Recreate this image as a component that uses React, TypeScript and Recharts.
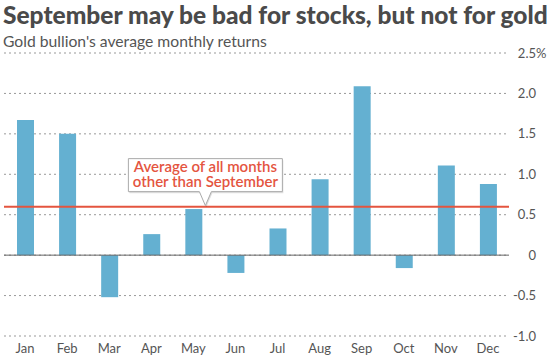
import React from "react";
import {
  BarChart,
  Bar,
  XAxis,
  YAxis,
  CartesianGrid,
  ReferenceLine,
  ReferenceDot,
} from "recharts";

const months = ["Jan", "Feb", "Mar", "Apr", "May", "Jun", "Jul", "Aug", "Sep", "Oct", "Nov", "Dec"];
const returns = [1.67, 1.5, -0.52, 0.26, 0.57, -0.22, 0.33, 0.94, 2.09, -0.16, 1.11, 0.88];
const avgExSeptember = 0.6;
const yTicks = [-1, -0.5, 0, 0.5, 1, 1.5, 2, 2.5];
const yTickLabels = ["-1.0", "-0.5", "0", "0.5", "1.0", "1.5", "2.0", "2.5"];

const data = months.map((m, i) => ({ month: m, value: returns[i] }));

const FONT = "Lato, 'Open Sans', sans-serif";

const YTick = (props: any) => {
  const { x, y, payload } = props;
  const idx = yTicks.indexOf(payload.value);
  const label = yTickLabels[idx];
  return (
    <g>
      <text x={x + 19} y={y} dy="0.35em" textAnchor="end" fill="#555" fontSize={13} fontFamily={FONT}>
        {label}
      </text>
      {payload.value === 2.5 && (
        <text x={x + 19} y={y} dy="0.35em" textAnchor="start" fill="#555" fontSize={13} fontFamily={FONT}>
          %
        </text>
      )}
    </g>
  );
};

// callout box pointing down at the average line, just right of the May bar
const Callout = (props: any) => {
  const { cx, cy } = props;
  const mx = cx + 12;
  const left = mx - 77;
  const right = mx + 77;
  const top = cy - 48;
  const bottom = cy - 15;
  const path = `M${left},${top} H${right} V${bottom} H${mx + 6} L${mx},${cy - 1} L${mx - 6},${bottom} H${left} Z`;
  return (
    <g>
      <path d={path} transform="translate(1,1.5)" fill="rgba(0,0,0,0.12)" />
      <path d={path} fill="#fff" stroke="#aaa" strokeWidth={1} />
      <text textAnchor="middle" fill="#e4553f" fontSize={15} fontWeight={600} fontFamily={FONT}>
        <tspan x={mx} y={cy - 35}>Average of all months</tspan>
        <tspan x={mx} y={cy - 20}>other than September</tspan>
      </text>
    </g>
  );
};

export default function App() {
  return (
    <div style={{ position: "absolute", left: 0, top: 0, width: 551, height: 359, background: "#fff" }}>
      <div
        style={{
          position: "absolute",
          left: 3,
          top: 0,
          fontFamily: FONT,
          fontWeight: 900,
          fontSize: 24.5,
          lineHeight: "30px",
          color: "#4a4a4a",
          whiteSpace: "nowrap",
        }}
      >
        September may be bad for stocks, but not for gold
      </div>
      <div
        style={{
          position: "absolute",
          left: 3,
          top: 31,
          fontFamily: FONT,
          fontSize: 15.7,
          lineHeight: "20px",
          color: "#555",
          whiteSpace: "nowrap",
        }}
      >
        Gold bullion's average monthly returns
      </div>
      <BarChart
        width={551}
        height={359}
        data={data}
        margin={{ top: 53, right: 0, left: 4, bottom: 0 }}
      >
        <CartesianGrid horizontal vertical={false} stroke="#999" strokeDasharray="2 3" />
        <XAxis
          dataKey="month"
          height={23}
          axisLine={false}
          tickLine={false}
          interval={0}
          tick={{ fill: "#555", fontSize: 13, fontFamily: FONT }}
        />
        <YAxis
          orientation="right"
          width={42}
          domain={[-1, 2.5]}
          ticks={yTicks}
          interval={0}
          axisLine={false}
          tickLine={false}
          tick={<YTick />}
        />
        <Bar dataKey="value" fill="#64b0d1" barSize={17} isAnimationActive={false} />
        <ReferenceLine y={0} stroke="#666" strokeWidth={1} />
        <ReferenceLine y={avgExSeptember} stroke="#e4553f" strokeWidth={2} />
        <ReferenceDot x="May" y={avgExSeptember} shape={<Callout />} />
      </BarChart>
    </div>
  );
}
